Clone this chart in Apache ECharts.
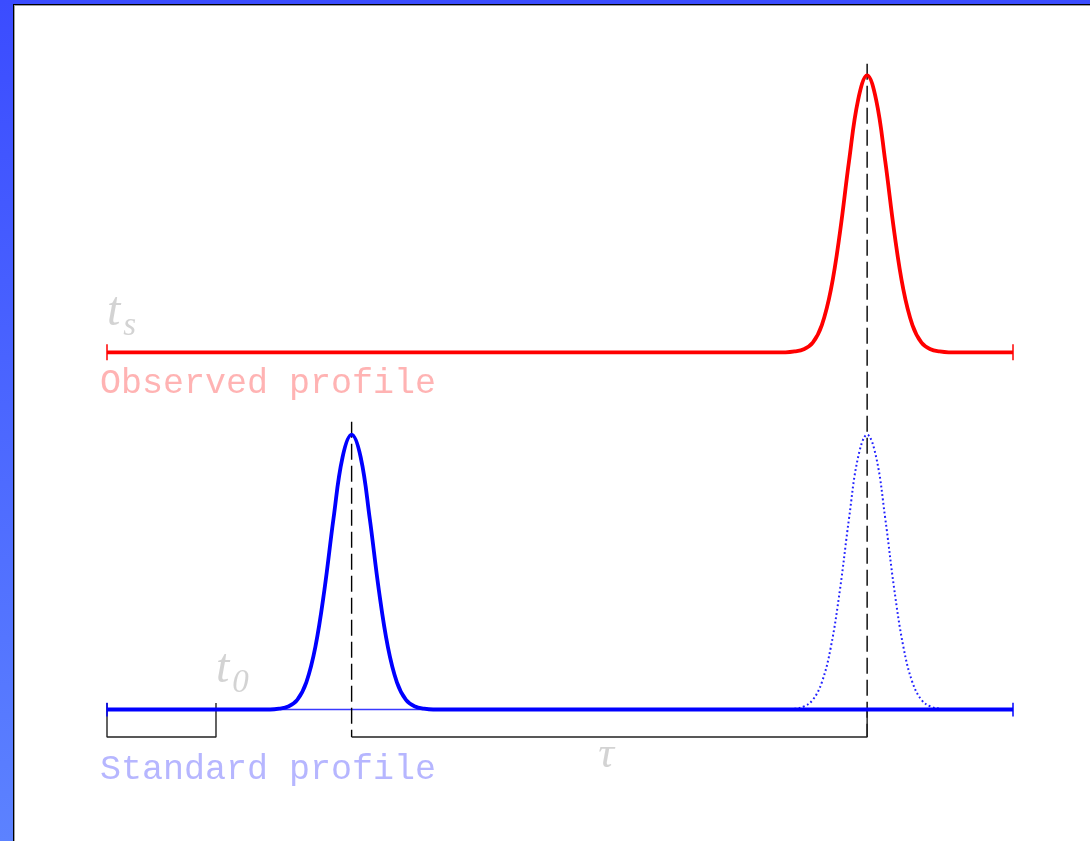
<!DOCTYPE html>
<html>
<head>
<meta charset="utf-8">
<script src="https://cdn.jsdelivr.net/npm/echarts@6/dist/echarts.min.js"></script>
<style>
  html, body {
    margin: 0;
    padding: 0;
    width: 1090px;
    height: 841px;
    overflow: hidden;
    background: linear-gradient(#3b4cff, #5c82ff);
  }
  #frame {
    position: absolute;
    left: 13px;
    top: 4px;
    width: 1077px;
    height: 837px;
    box-sizing: border-box;
    border-left: 1px solid #000;
    border-top: 1px solid #000;
    box-shadow: inset 1px 1px 0 #a0a0a0;
    background: #fff;
  }
  #chart {
    position: absolute;
    left: 15px;
    top: 6px;
    width: 1075px;
    height: 835px;
  }
</style>
</head>
<body>
<div id="frame"></div>
<div id="chart"></div>
<script>
// time axis runs 0..100 across the profile window
const observedX = [0, 74.9, 75.9, 76.9, 77.9, 78.9, 79.9, 80.9, 81.9, 82.9, 83.9, 84.9, 85.9, 86.9, 87.9, 88.9, 89.9, 90.9, 91.9, 92.9, 100]
const observedY = [1.30, 1.30, 1.303, 1.311, 1.335, 1.399, 1.528, 1.736, 1.995, 2.218, 2.308, 2.218, 1.995, 1.736, 1.528, 1.399, 1.335, 1.311, 1.303, 1.30, 1.30]

const standardX = [0, 18, 19, 20, 21, 22, 23, 24, 25, 26, 27, 28, 29, 30, 31, 32, 33, 34, 35, 36, 100]
const standardY = [0, 0, 0.003, 0.011, 0.035, 0.099, 0.228, 0.436, 0.695, 0.918, 1.0, 0.918, 0.695, 0.436, 0.228, 0.099, 0.035, 0.011, 0.003, 0, 0]

// standard profile shifted to the observed arrival time
const shiftedX = [74.9, 75.9, 76.9, 77.9, 78.9, 79.9, 80.9, 81.9, 82.9, 83.9, 84.9, 85.9, 86.9, 87.9, 88.9, 89.9, 90.9, 91.9, 92.9]
const shiftedY = [0, 0.003, 0.011, 0.035, 0.099, 0.228, 0.436, 0.695, 0.918, 1.0, 0.918, 0.695, 0.436, 0.228, 0.099, 0.035, 0.011, 0.003, 0]

const observedBase = 1.30
const standardBase = 0
const t0 = 12.03
const standardPeak = 27
const observedPeak = 83.9
const markerTop = [1.047, 2.35]
const bracketY = -0.1

const labelText = ['{t|t}{s|s}', 'Observed profile', '{t|t}{s|0}', 'Standard profile', '{g|τ}']
const labelX = [0, 0, 12.03, 0, 55.1]
const labelY = [1.42, 1.186, 0.122, -0.22, -0.166]

function pairs (xs, ys) {
  return xs.map((x, i) => [x, ys[i]])
}

function plainLine (data, color, width, type) {
  return {
    type: 'line',
    data: data,
    symbol: 'none',
    silent: true,
    clip: false,
    lineStyle: {color: color, width: width, type: type || 'solid'}
  }
}

let myChart = echarts.init(document.getElementById('chart'), null, {renderer: 'canvas'})

const gray = '#c8c8c8'
const richSub = {
  t: {fontFamily: 'Liberation Serif', fontStyle: 'italic', fontSize: 48, color: gray, verticalAlign: 'bottom', lineHeight: 48, padding: [0, 3, 7, 0]},
  s: {fontFamily: 'Liberation Serif', fontStyle: 'italic', fontSize: 33, color: gray, verticalAlign: 'bottom', lineHeight: 33},
  g: {fontFamily: 'Liberation Serif', fontStyle: 'italic', fontSize: 44, color: gray}
}
const labelColors = [gray, '#ffa0a0', gray, '#a4a4ff', gray]
const labelPos = ['right', 'right', 'right', 'right', 'inside']

const ticks = []
;[0, 100].forEach(x => {
  ticks.push(plainLine([[x, observedBase - 0.029], [x, observedBase + 0.029]], '#ff0000', 1.5))
  ticks.push(plainLine([[x, standardBase - 0.025], [x, standardBase + 0.025]], '#0000ff', 1.5))
})

myChart.setOption({
  animation: false,
  backgroundColor: 'transparent',
  grid: {left: 92, right: 77, top: 55, bottom: 104},
  xAxis: {type: 'value', min: 0, max: 100, show: false},
  yAxis: {type: 'value', min: -0.1, max: 2.36, show: false},
  series: [
    // thin baseline under the standard pulse
    plainLine([[0, standardBase], [100, standardBase]], '#3a3aff', 1.3),
    // dashed arrival markers
    plainLine([[standardPeak, markerTop[0]], [standardPeak, bracketY]], '#000', 1.4, [16, 6]),
    plainLine([[observedPeak, markerTop[1]], [observedPeak, bracketY]], '#000', 1.4, [16, 6]),
    // brackets
    plainLine([[0, 0.024], [0, bracketY], [t0, bracketY], [t0, 0.024]], '#222', 1.4),
    plainLine([[standardPeak, bracketY], [observedPeak, bracketY], [observedPeak, standardBase]], '#222', 1.4),
    // profiles
    Object.assign(plainLine(pairs(shiftedX, shiftedY), '#2020ff', 2, [1.8, 2.6]), {smooth: 0.4}),
    Object.assign(plainLine(pairs(standardX, standardY), '#0000ff', 3.8), {smooth: 0.4}),
    Object.assign(plainLine(pairs(observedX, observedY), '#ff0000', 3.8), {smooth: 0.4}),
    ...ticks,
    {
      type: 'scatter',
      symbolSize: 0,
      silent: true,
      clip: false,
      data: labelText.map((txt, i) => ({
        value: [labelX[i], labelY[i]],
        label: {
          show: true,
          position: labelPos[i],
          distance: 0,
          offset: i === 1 || i === 3 ? [-7, 0] : [0, 0],
          formatter: txt,
          color: labelColors[i],
          fontFamily: 'Liberation Mono',
          fontSize: 35,
          rich: richSub
        }
      }))
    }
  ]
})
</script>
</body>
</html>
